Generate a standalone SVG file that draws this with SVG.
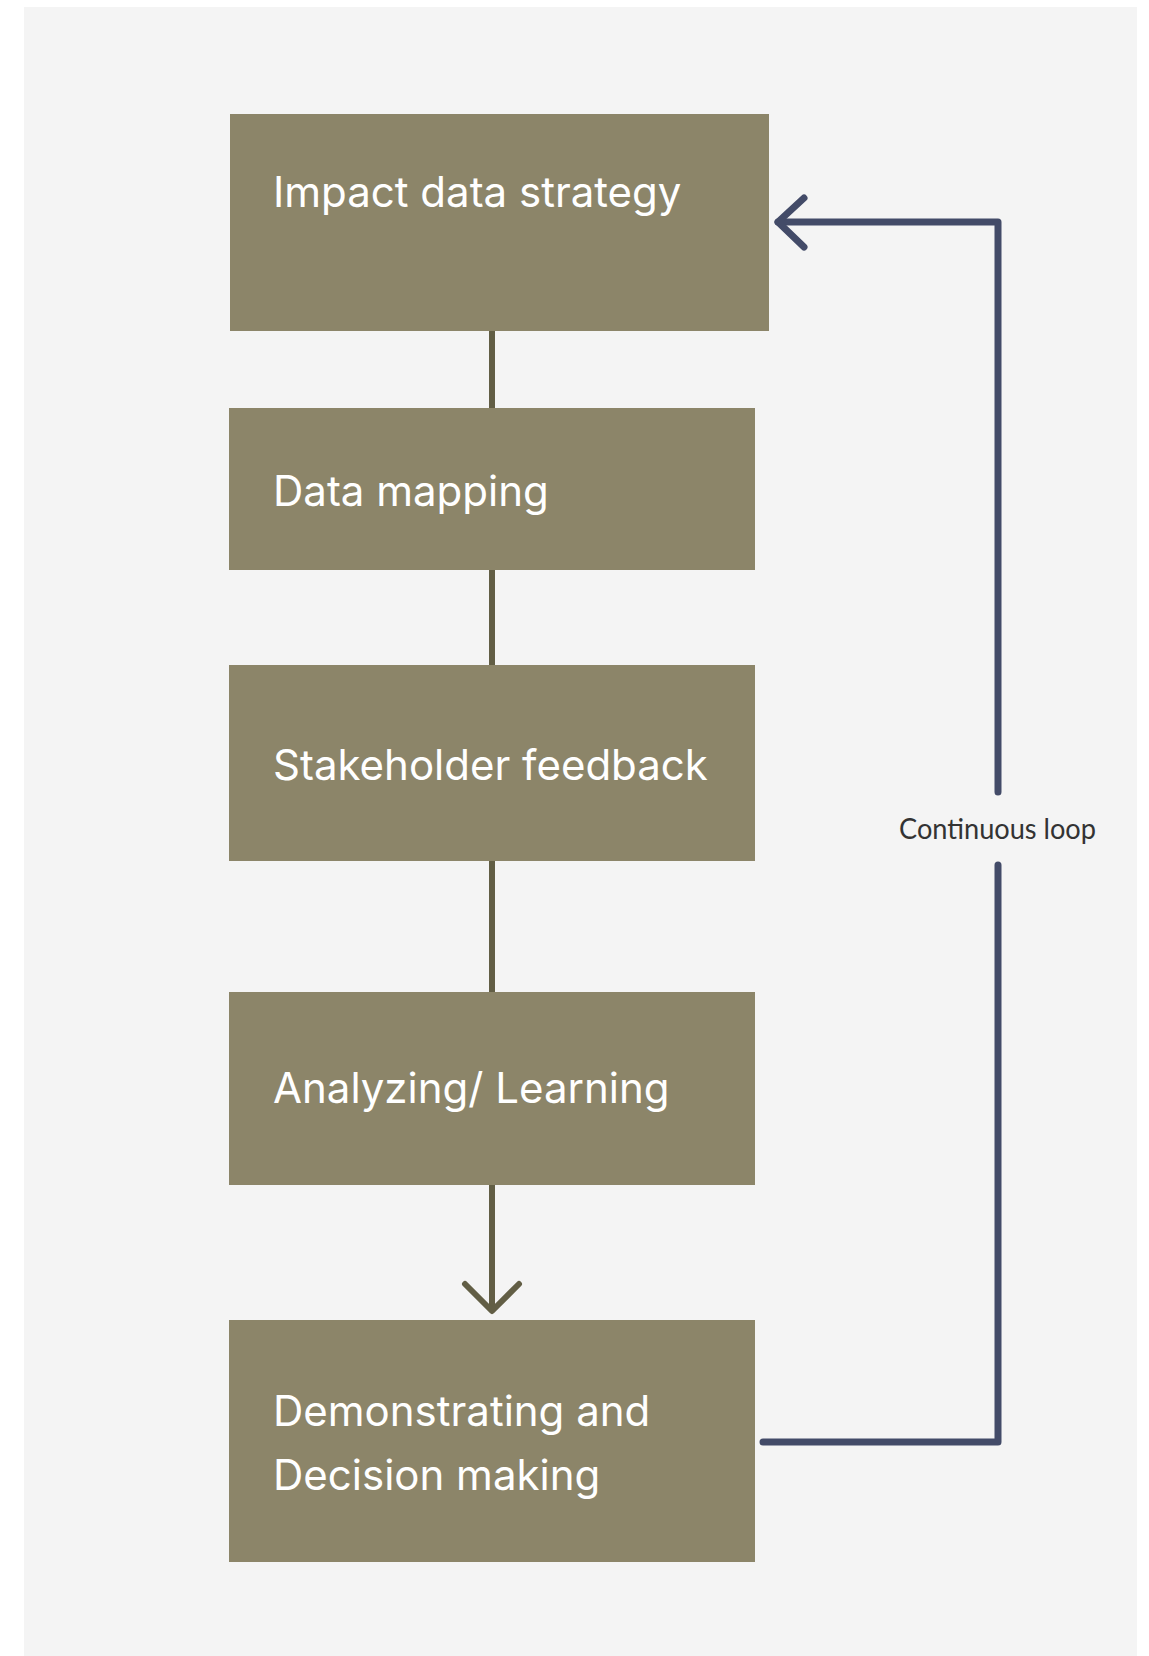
<svg xmlns="http://www.w3.org/2000/svg" width="1149" height="1656" viewBox="0 0 1149 1656">
<style>
.box{fill:#8c8569}
.lbl{fill:#ffffff;font-family:Inter,"Noto Sans",sans-serif;font-size:42px}
.flow{stroke:#625e45;stroke-width:6;fill:none;stroke-linecap:round;stroke-linejoin:round}
.loop{stroke:#434b68;stroke-width:7;fill:none;stroke-linecap:round;stroke-linejoin:round}
.note{fill:#333333;font-family:Lato,"Open Sans",sans-serif;font-size:28px}
</style>
<rect x="0" y="0" width="1149" height="1656" fill="#ffffff"/>
<rect x="24" y="7" width="1113" height="1649" fill="#f4f4f4"/>
<g id="connectors">
<line class="flow" x1="492" y1="331" x2="492" y2="408" style="stroke-linecap:butt"/>
<line class="flow" x1="492" y1="570" x2="492" y2="665" style="stroke-linecap:butt"/>
<line class="flow" x1="492" y1="861" x2="492" y2="992" style="stroke-linecap:butt"/>
<line class="flow" x1="492" y1="1185" x2="492" y2="1310" style="stroke-linecap:butt"/>
<polyline class="flow" points="465,1284 492,1311 519,1284"/>
<polyline class="loop" points="763,1442 998,1442 998,865"/>
<polyline class="loop" points="998,792 998,222 778,222"/>
<polyline class="loop" points="804,198 778,222 804,247"/>
<text class="note" x="899" y="839" textLength="197" lengthAdjust="spacingAndGlyphs">Continuous loop</text>
</g>
<g id="n1">
<rect class="box" x="230" y="114" width="539" height="217"/>
<text class="lbl" x="273" y="207">Impact data strategy</text>
</g>
<g id="n2">
<rect class="box" x="229" y="408" width="526" height="162"/>
<text class="lbl" x="273" y="506">Data mapping</text>
</g>
<g id="n3">
<rect class="box" x="229" y="665" width="526" height="196"/>
<text class="lbl" x="273" y="780">Stakeholder feedback</text>
</g>
<g id="n4">
<rect class="box" x="229" y="992" width="526" height="193"/>
<text class="lbl" x="273" y="1103">Analyzing/ Learning</text>
</g>
<g id="n5">
<rect class="box" x="229" y="1320" width="526" height="242"/>
<text class="lbl" x="273" y="1426">Demonstrating and</text>
<text class="lbl" x="273" y="1490">Decision making</text>
</g>
</svg>
